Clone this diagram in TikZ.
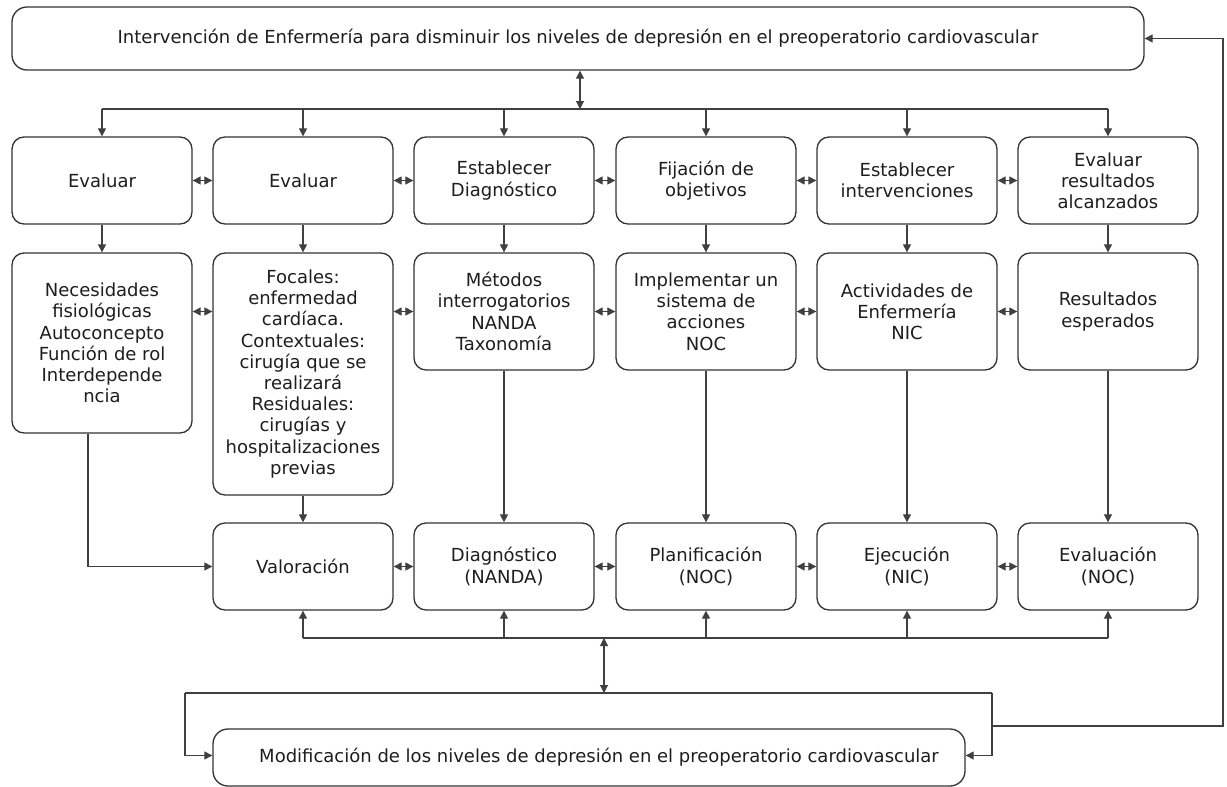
\documentclass[tikz,border=0pt]{standalone}
\usepackage{fontspec}
\setmainfont{DejaVu Sans}
\usetikzlibrary{arrows.meta,calc}
\definecolor{boxc}{HTML}{333333}
\definecolor{linec}{HTML}{404040}
\definecolor{txtc}{HTML}{1E1E1E}
\begin{document}
\begin{tikzpicture}[x=1pt,y=-1pt,
  box/.style={draw=boxc, line width=1.3pt, rounded corners=12pt, align=center, inner sep=0pt, text=txtc, font=\fontsize{18}{21.2}\selectfont},
  conn/.style={draw=linec, line width=1.1pt},
  arr/.style={conn, -{Triangle[length=8pt,width=8pt]}},
  darr/.style={conn, {Triangle[length=8pt,width=8pt]}-{Triangle[length=8pt,width=8pt]}},
  r1/.style={box, minimum width=180pt, minimum height=87pt},
  r2/.style={box, minimum width=180pt, minimum height=117pt},
  r3/.style={box, minimum width=180pt, minimum height=87pt}
]
\fill[white] (0,0) rectangle (1227,787);

% top and bottom boxes
\node[box, rounded corners=15pt, minimum width=1132pt, minimum height=63pt] (top) at (578,38.5)
  {Intervención de Enfermería para disminuir los niveles de depresión en el preoperatorio cardiovascular};
\node[box, rounded corners=15pt, minimum width=752pt, minimum height=57pt] (mod) at (589,757.5)
  {\hspace*{20pt}Modificación de los niveles de depresión en el preoperatorio cardiovascular};

% row 1
\node[r1] (r1a) at (102,180.5) {Evaluar};
\node[r1] (r1b) at (303,180.5) {Evaluar};
\node[r1] (r1c) at (504,180.5) {Establecer\\Diagnóstico};
\node[r1] (r1d) at (706,180.5) {Fijación de\\objetivos};
\node[r1] (r1e) at (907,180.5) {Establecer\\intervenciones};
\node[r1] (r1f) at (1108,180.5) {Evaluar\\resultados\\alcanzados};

% row 2
\node[box, minimum width=180pt, minimum height=180pt] (r2a) at (102,343)
  {Necesidades\\fisiológicas\\Autoconcepto\\Función de rol\\Interdepende\\ncia};
\node[box, minimum width=180pt, minimum height=242pt] (r2b) at (303,374)
  {Focales:\\enfermedad\\cardíaca.\\Contextuales:\\cirugía que se\\realizará\\Residuales:\\cirugías y\\hospitalizaciones\\previas};
\node[r2] (r2c) at (504,311.5) {Métodos\\interrogatorios\\NANDA\\Taxonomía};
\node[r2] (r2d) at (706,311.5) {Implementar un\\sistema de\\acciones\\NOC};
\node[r2] (r2e) at (907,311.5) {Actividades de\\Enfermería\\NIC};
\node[r2] (r2f) at (1108,311.5) {Resultados\\esperados};

% row 3
\node[r3] (r3b) at (303,566.5) {Valoración};
\node[r3] (r3c) at (504,566.5) {Diagnóstico\\(NANDA)};
\node[r3] (r3d) at (706,566.5) {Planificación\\(NOC)};
\node[r3] (r3e) at (907,566.5) {Ejecución\\(NIC)};
\node[r3] (r3f) at (1108,566.5) {Evaluación\\(NOC)};

% top distribution
\coordinate (tj) at (580,109);
\draw[darr] (top.south -| tj) -- (tj);
\draw[conn] (r1a.north |- tj) -- (r1f.north |- tj);
\foreach \n in {r1a,r1b,r1c,r1d,r1e,r1f}
  \draw[arr] (\n.north |- tj) -- (\n.north);

% row 1 links
\draw[darr] (r1a.east) -- (r1b.west);
\draw[darr] (r1b.east) -- (r1c.west);
\draw[darr] (r1c.east) -- (r1d.west);
\draw[darr] (r1d.east) -- (r1e.west);
\draw[darr] (r1e.east) -- (r1f.west);

% row1 -> row2
\draw[arr] (r1a.south) -- (r2a.north);
\draw[arr] (r1b.south) -- (r2b.north);
\draw[arr] (r1c.south) -- (r2c.north);
\draw[arr] (r1d.south) -- (r2d.north);
\draw[arr] (r1e.south) -- (r2e.north);
\draw[arr] (r1f.south) -- (r2f.north);

% row 2 links
\draw[darr] (r2a.east |- r2c.west) -- (r2b.west |- r2c.west);
\draw[darr] (r2b.east |- r2c.west) -- (r2c.west);
\draw[darr] (r2c.east) -- (r2d.west);
\draw[darr] (r2d.east) -- (r2e.west);
\draw[darr] (r2e.east) -- (r2f.west);

% row2 -> row3
\draw[arr] ([xshift=-14pt]r2a.south) |- (r3b.west);
\draw[arr] (r2b.south) -- (r3b.north);
\draw[arr] (r2c.south) -- (r3c.north);
\draw[arr] (r2d.south) -- (r3d.north);
\draw[arr] (r2e.south) -- (r3e.north);
\draw[arr] (r2f.south) -- (r3f.north);

% row 3 links
\draw[darr] (r3b.east) -- (r3c.west);
\draw[darr] (r3c.east) -- (r3d.west);
\draw[darr] (r3d.east) -- (r3e.west);
\draw[darr] (r3e.east) -- (r3f.west);

% bottom bus
\coordinate (bj) at (604,638);
\draw[conn] (r3b.south |- bj) -- (r3f.south |- bj);
\foreach \n in {r3b,r3c,r3d,r3e,r3f}
  \draw[arr] (\n.south |- bj) -- (\n.south);
\coordinate (lj) at (604,693);
\draw[darr] (bj) -- (lj);
\coordinate (ll) at (185,693);
\coordinate (lr) at (992,693);
\draw[conn] (ll) -- (lr);
\draw[arr] (ll) |- ([yshift=2pt]mod.west);
\draw[arr] (lr) |- ([yshift=2pt]mod.east);

% feedback
\coordinate (fb) at (992,726);
\coordinate (fr) at (1223,726);
\draw[arr] (fb) -- (fr) |- (top.east);
\end{tikzpicture}
\end{document}
